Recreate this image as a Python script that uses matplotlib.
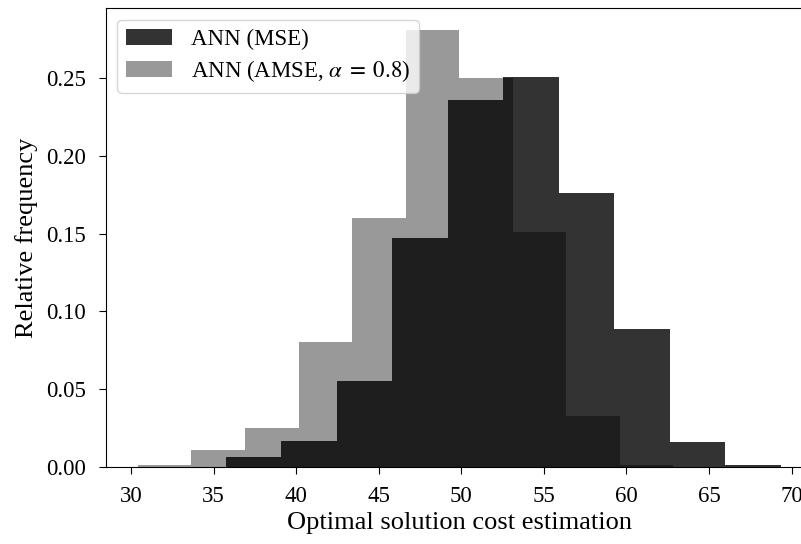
import numpy as np
import matplotlib
matplotlib.use("Agg")
import matplotlib.pyplot as plt

plt.rcParams['font.family'] = ['Liberation Serif', 'DejaVu Serif']
plt.rcParams['mathtext.fontset'] = 'stix'
plt.rcParams['font.size'] = 16.5
plt.rcParams['axes.labelsize'] = 19
plt.rcParams['xtick.major.size'] = 5
plt.rcParams['ytick.major.size'] = 5
plt.rcParams['xtick.major.pad'] = 8.5
plt.rcParams['ytick.major.pad'] = 9

# histogram bins (10 bins each)
mse_range = (35.73, 69.35)
mse_freq = [0.0064, 0.0168, 0.055, 0.147, 0.236, 0.251, 0.176, 0.0889, 0.0161, 0.0012]

amse_range = (30.41, 62.84)
amse_freq = [0.0015, 0.011, 0.025, 0.0805, 0.1604, 0.281, 0.250, 0.151, 0.0329, 0.0012]

mse_edges = np.linspace(mse_range[0], mse_range[1], len(mse_freq) + 1)
amse_edges = np.linspace(amse_range[0], amse_range[1], len(amse_freq) + 1)

fig = plt.figure(figsize=(8.01, 5.44), dpi=100)
ax = fig.add_axes([0.132, 0.1415, 0.883, 0.8437])

ax.hist(mse_edges[:-1], bins=mse_edges, weights=mse_freq, color='black', alpha=0.8,
        label='ANN (MSE)')
ax.hist(amse_edges[:-1], bins=amse_edges, weights=amse_freq, color='black', alpha=0.4,
        label=r'ANN (AMSE, $\alpha\;=\;0.8$)')

ax.set_xlabel('Optimal solution cost estimation', labelpad=4)
ax.set_ylabel('Relative frequency', labelpad=6)
ax.set_xticks([30, 35, 40, 45, 50, 55, 60, 65, 70])
ax.set_yticks([0.0, 0.05, 0.10, 0.15, 0.20, 0.25])
ax.set_yticklabels(['0.00', '0.05', '0.10', '0.15', '0.20', '0.25'])
ax.legend(loc='upper left', labelspacing=0.35)

fig.savefig('out.png', dpi=100)
